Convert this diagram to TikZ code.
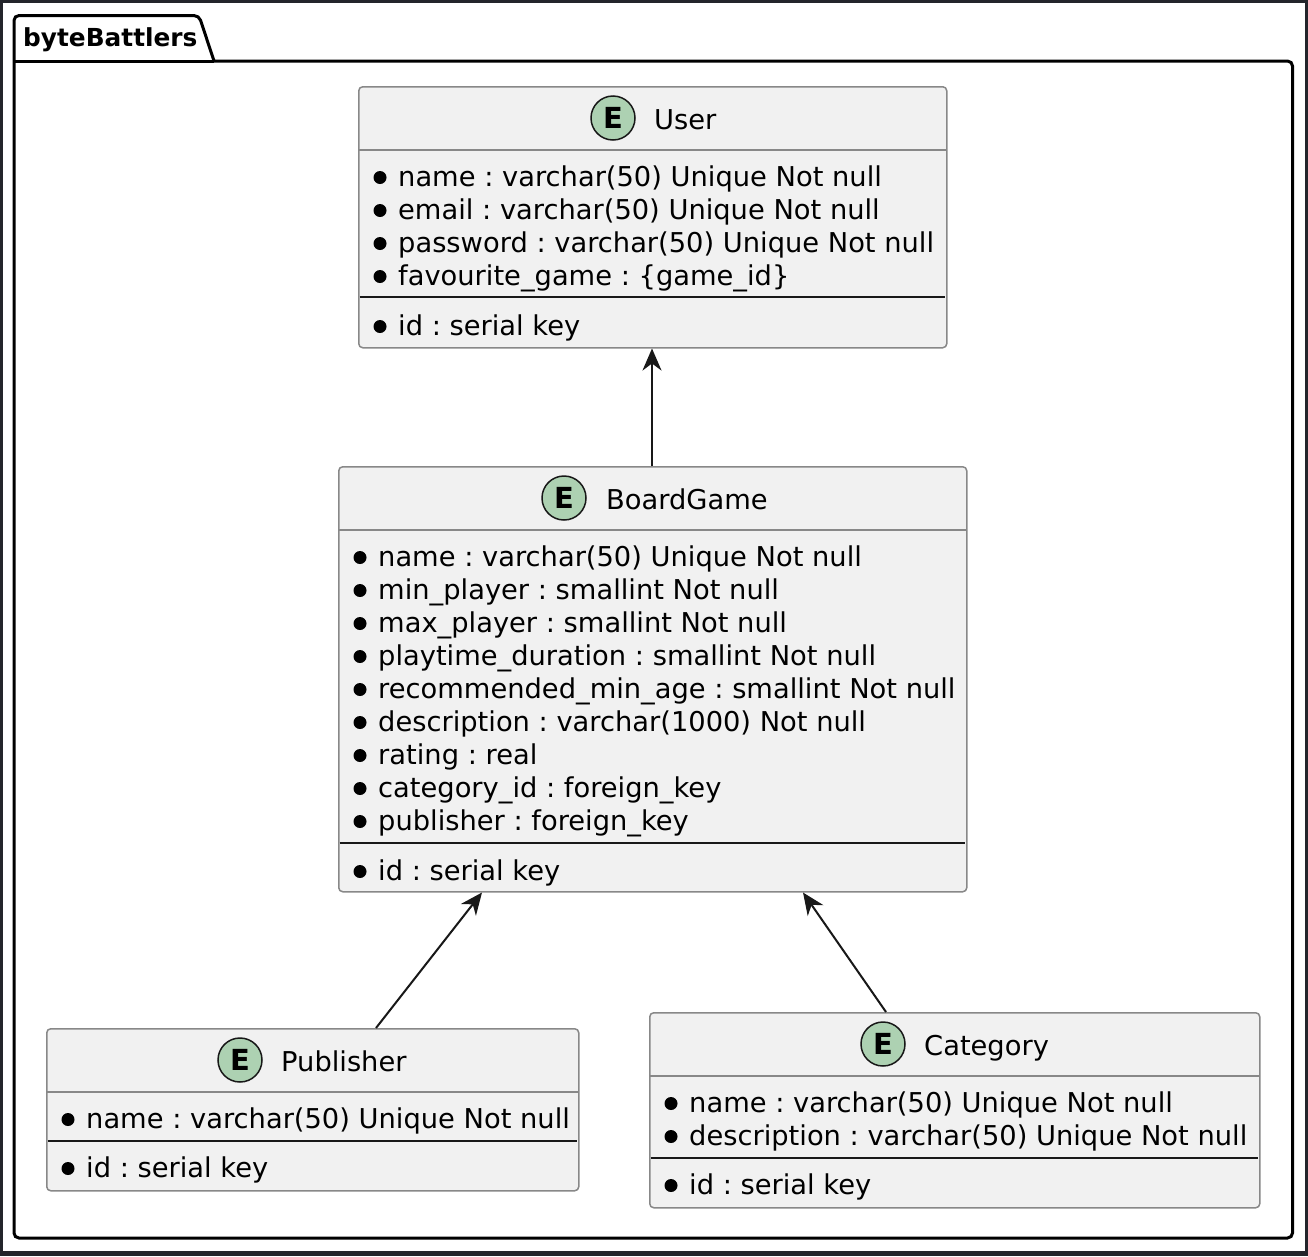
\documentclass[tikz,border=0pt]{standalone}
\usepackage{fontspec}
\setmainfont{DejaVu Sans}
\usetikzlibrary{arrows.meta,calc}
\definecolor{frame}{HTML}{23252B}
\definecolor{boxfill}{HTML}{F1F1F1}
\definecolor{boxline}{HTML}{888888}
\definecolor{efill}{HTML}{ADD1B2}
\definecolor{ink}{HTML}{181818}
\frenchspacing
\tikzset{
  entity/.style={draw=boxline, fill=boxfill, line width=1.5pt, rounded corners=4pt, inner sep=0pt, anchor=north west},
  hdrline/.style={draw=boxline, line width=1.5pt},
  sepline/.style={draw=ink, line width=2.5pt},
  member/.style={anchor=base west, inner sep=0pt, font=\fontsize{27.3}{33}\selectfont, text=black},
  etitle/.style={anchor=base west, inner sep=0pt, font=\fontsize{27.3}{33}\selectfont, text=black},
  ebadge/.style={circle, draw=ink, line width=1.5pt, fill=efill, minimum size=44pt, inner sep=0pt, font=\fontsize{29}{30}\selectfont\bfseries},
  arr/.style={draw=ink, line width=2pt, -{Stealth[length=22pt,width=19pt,inset=7pt]}},
  pkgline/.style={draw=black, line width=3pt},
  bul/.style={fill=black}
}
\begin{document}
\begin{tikzpicture}[x=1pt,y=-1pt]
\useasboundingbox (0,0) rectangle (1308,1256);
\fill[frame] (0,0) rectangle (1308,1256);
\fill[white] (3,3) rectangle (1304.5,1251);
% package
\draw[pkgline, rounded corners=5pt] (214,61) -- (1292.5,61) -- (1292.5,1238) -- (14,1238) -- (14,15.5) -- (199,15.5) -- (214,61);
\draw[pkgline] (14,61) -- (214,61);
\node[anchor=base west, inner sep=0pt, font=\fontsize{24.8}{26}\selectfont\bfseries] (pkg) at (23,46) {byteBattlers};

% User
\node[entity, minimum width=588pt, minimum height=261pt] (user) at (358,86) {};
\draw[hdrline] (358,150) -- (946,150);
\draw[sepline] (359.5,297) -- (944.5,297);
\node[ebadge] (ube) at (613,118) {E};
\node[etitle] (ut) at (654,129) {User};
\foreach \yy in {186,219,252,285,335} \fill[bul] (380,\yy-8.5) circle (6.5pt);
\node[member] (u1) at (398,186) {name : varchar(50) Unique Not null};
\node[member] (u2) at (398,219) {email : varchar(50) Unique Not null};
\node[member] (u3) at (398,252) {password : varchar(50) Unique Not null};
\node[member] (u4) at (398,285) {favourite\_game : \{game\_id\}};
\node[member] (u5) at (398,335) {id : serial key};

% BoardGame
\node[entity, minimum width=628pt, minimum height=425pt] (bg) at (338,466) {};
\draw[hdrline] (338,530) -- (966,530);
\draw[sepline] (339.5,843) -- (964.5,843);
\node[ebadge] (bge) at (564,498) {E};
\node[etitle] (bgt) at (606,509) {BoardGame};
\foreach \yy in {566,599,632,665,698,731,764,797,830,880} \fill[bul] (360,\yy-8.5) circle (6.5pt);
\node[member] (b1) at (378,566) {name : varchar(50) Unique Not null};
\node[member] (b2) at (378,599) {min\_player : smallint Not null};
\node[member] (b3) at (378,632) {max\_player : smallint Not null};
\node[member] (b4) at (378,665) {playtime\_duration : smallint Not null};
\node[member] (b5) at (378,698) {recommended\_min\_age : smallint Not null};
\node[member] (b6) at (378,731) {description : varchar(1000) Not null};
\node[member] (b7) at (378,764) {rating : real};
\node[member] (b8) at (378,797) {category\_id : foreign\_key};
\node[member] (b9) at (378,830) {publisher : foreign\_key};
\node[member] (b10) at (378,880) {id : serial key};

% Publisher
\node[entity, minimum width=532pt, minimum height=162pt] (pub) at (46,1028) {};
\draw[hdrline] (46,1092) -- (578,1092);
\draw[sepline] (47.5,1141) -- (576.5,1141);
\node[ebadge] (pe) at (240,1060) {E};
\node[etitle] (pt) at (281,1071) {Publisher};
\foreach \yy in {1128,1177} \fill[bul] (68,\yy-8.5) circle (6.5pt);
\node[member] (p1) at (86,1128) {name : varchar(50) Unique Not null};
\node[member] (p2) at (86,1177) {id : serial key};

% Category
\node[entity, minimum width=610pt, minimum height=195pt] (cat) at (649,1012) {};
\draw[hdrline] (649,1076) -- (1259,1076);
\draw[sepline] (650.5,1158) -- (1257.5,1158);
\node[ebadge] (ce) at (883,1044) {E};
\node[etitle] (ct) at (924,1055) {Category};
\foreach \yy in {1112,1145,1194} \fill[bul] (671,\yy-8.5) circle (6.5pt);
\node[member] (c1) at (689,1112) {name : varchar(50) Unique Not null};
\node[member] (c2) at (689,1145) {description : varchar(50) Unique Not null};
\node[member] (c3) at (689,1194) {id : serial key};

% connectors
\draw[arr] ($(bg.north west)+(314,0)$) -- ($(user.south west)+(294,0)$);
\draw[arr] ($(pub.north west)+(330,0)$) -- ($(bg.south west)+(144,0)$);
\draw[arr] ($(cat.north west)+(237,0)$) -- ($(bg.south west)+(465,0)$);
\end{tikzpicture}
\end{document}
